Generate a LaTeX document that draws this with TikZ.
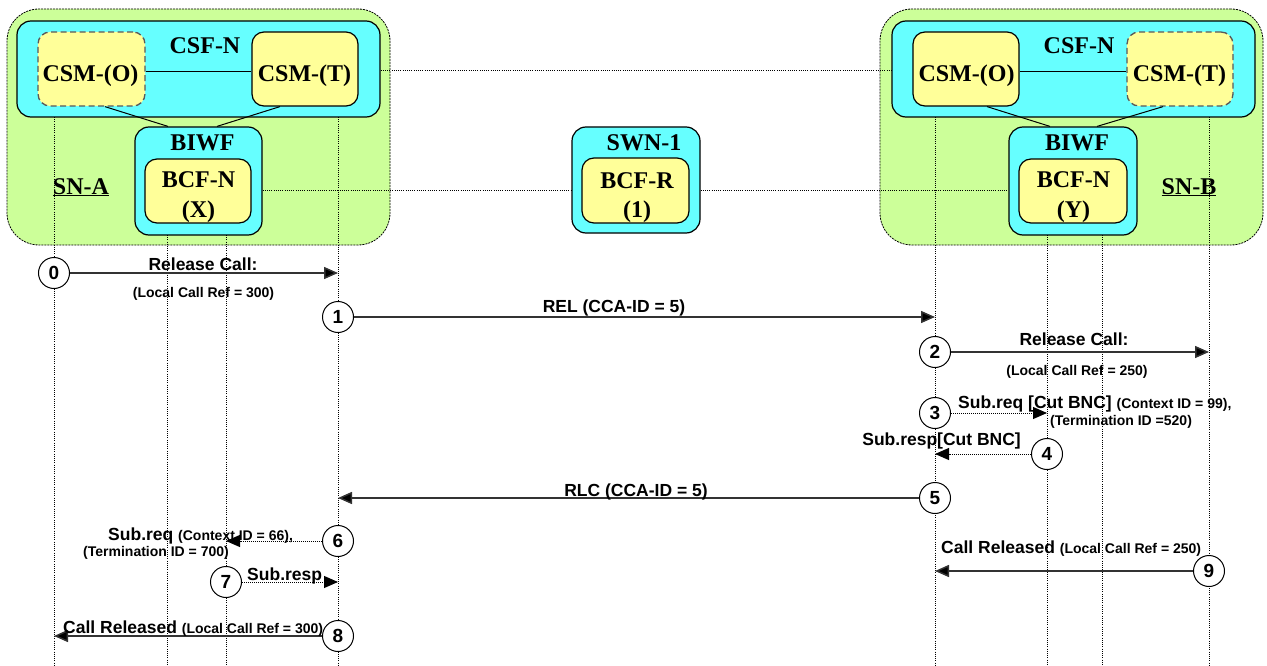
\documentclass[tikz,border=0pt]{standalone}
\usepackage{fontspec}
\setmainfont{Liberation Sans}
\newfontfamily\boxfont{Liberation Serif}
\usetikzlibrary{arrows.meta,calc}
\definecolor{sngreen}{HTML}{CCFF99}
\definecolor{fcyan}{HTML}{66FFFF}
\definecolor{fyellow}{HTML}{FFFF99}
\definecolor{lnk}{HTML}{333333}
\newcommand{\smt}[1]{{\fontsize{14}{16}\selectfont #1}}
\begin{document}
\begin{tikzpicture}[x=1pt,y=-1pt,
  snbox/.style={draw, dash pattern=on 2pt off 1pt, line width=0.8pt, fill=sngreen, rounded corners=32pt, minimum width=383pt, minimum height=236pt, inner sep=0pt},
  cyanbox/.style={draw, line width=1.2pt, fill=fcyan, rounded corners=14pt, inner sep=0pt},
  ybox/.style={draw, line width=1.2pt, fill=fyellow, rounded corners=12pt, inner sep=0pt},
  ydash/.style={draw=black!65, line width=1.3pt, dash pattern=on 6pt off 3.5pt, fill=fyellow, rounded corners=12pt, inner sep=0pt},
  blbl/.style={font=\boxfont\bfseries\fontsize{24}{28}\selectfont, inner sep=0pt, anchor=base},
  life/.style={line width=0.8pt, dash pattern=on 1pt off 1.2pt},
  conn/.style={line width=0.8pt, dash pattern=on 1pt off 1.2pt},
  solidln/.style={line width=1pt},
  msg/.style={line width=1.5pt, draw=lnk, -{Triangle[length=14pt,width=12pt,fill=black]}},
  dmsg/.style={line width=1pt, dash pattern=on 1pt off 1pt, -{Triangle[length=14pt,width=12pt,fill=black]}},
  num/.style={circle, draw, line width=1pt, fill=white, minimum size=31pt, inner sep=0pt, font=\bfseries\fontsize{19}{22}\selectfont},
  big/.style={font=\bfseries\fontsize{17.5}{20}\selectfont, inner sep=0pt},
  sm/.style={font=\bfseries\fontsize{14}{16}\selectfont, inner sep=0pt}
]
\useasboundingbox (0,0) rectangle (1267,666);

% ---------- SN-A ----------
\node[snbox] (SNA) at (198.5,127) {};
\node[cyanbox, minimum width=363pt, minimum height=96pt] (CSFA) at (198.5,69) {};
\node[ydash, minimum width=107pt, minimum height=74pt] (CSMOA) at (91.5,69) {};
\node[ybox, minimum width=106pt, minimum height=74pt] (CSMTA) at (305,69) {};
\node[blbl] (tCSFA) at (205,54) {CSF-N};
\node[blbl] (tCSMOA) at (90.5,82) {CSM-(O)};
\node[blbl] (tCSMTA) at (304.5,82) {CSM-(T)};
\draw[solidln] ($(CSMOA.east)+(0,3)$) -- ($(CSMTA.west)+(0,3)$);
\node[cyanbox, minimum width=127pt, minimum height=108pt] (BIWFA) at (198.5,181) {};
\draw[solidln] ($(CSMOA.south)+(13.5,0)$) -- ($(BIWFA.north)+(-30.5,0)$);
\draw[solidln] ($(CSMTA.south)+(-25,0)$) -- ($(BIWFA.north)+(18.5,0)$);
\node[ybox, minimum width=106pt, minimum height=64pt] (BCFA) at (198,191) {};
\node[blbl] (tBIWFA) at (202.5,151) {BIWF};
\node[blbl] (tBCFA1) at (198.5,188) {BCF-N};
\node[blbl] (tBCFA2) at (198.5,217) {(X)};
\node[blbl] (tSNA) at (81,194) {\underline{SN-A}};

% ---------- SN-B ----------
\node[snbox] (SNB) at (1071.5,127) {};
\node[cyanbox, minimum width=363pt, minimum height=96pt] (CSFB) at (1073.5,69) {};
\node[ybox, minimum width=106pt, minimum height=74pt] (CSMOB) at (966,69) {};
\node[ydash, minimum width=106pt, minimum height=74pt] (CSMTB) at (1180,69) {};
\node[blbl] (tCSFB) at (1079,54) {CSF-N};
\node[blbl] (tCSMOB) at (966.5,82) {CSM-(O)};
\node[blbl] (tCSMTB) at (1179.5,82) {CSM-(T)};
\draw[solidln] ($(CSMOB.east)+(0,3)$) -- ($(CSMTB.west)+(0,3)$);
\node[cyanbox, minimum width=128pt, minimum height=108pt] (BIWFB) at (1073,181) {};
\draw[solidln] ($(CSMOB.south)+(21,0)$) -- ($(BIWFB.north)+(-23,0)$);
\draw[solidln] ($(CSMTB.south)+(-17,0)$) -- ($(BIWFB.north)+(24,0)$);
\node[ybox, minimum width=108pt, minimum height=64pt] (BCFB) at (1073,191) {};
\node[blbl] (tBIWFB) at (1077,151) {BIWF};
\node[blbl] (tBCFB1) at (1073.5,188) {BCF-N};
\node[blbl] (tBCFB2) at (1073.5,217) {(Y)};
\node[blbl] (tSNB) at (1189,194) {\underline{SN-B}};

% ---------- SWN-1 ----------
\node[cyanbox, minimum width=128pt, minimum height=106pt] (SWN) at (636,180) {};
\node[ybox, minimum width=107pt, minimum height=65pt] (BCFR) at (635.5,190.5) {};
\node[blbl] (tSWN) at (644,151) {SWN-1};
\node[blbl] (tBCFR1) at (637,189) {BCF-R};
\node[blbl] (tBCFR2) at (637,217) {(1)};

% ---------- dotted links ----------
\draw[conn] (CSFA.east |- 0,70) -- (CSFB.west |- 0,70);
\draw[conn] (BIWFA.east |- 0,190) -- (SWN.west |- 0,190);
\draw[conn] (SWN.east |- 0,190) -- (BIWFB.west |- 0,190);

% ---------- lifelines ----------
\coordinate (LAt) at (54,117);   \coordinate (LAb) at (54,666);
\coordinate (BA1t) at (167,235); \coordinate (BA1b) at (167,666);
\coordinate (BA2t) at (226,235); \coordinate (BA2b) at (226,666);
\coordinate (TAt) at (338,117);  \coordinate (TAb) at (338,666);
\coordinate (OBt) at (935,117);  \coordinate (OBb) at (935,666);
\coordinate (BB1t) at (1047,235); \coordinate (BB1b) at (1047,666);
\coordinate (BB2t) at (1102,235); \coordinate (BB2b) at (1102,666);
\coordinate (TBt) at (1209,117); \coordinate (TBb) at (1209,666);
\foreach \a/\b in {LAt/LAb,BA1t/BA1b,BA2t/BA2b,TAt/TAb,OBt/OBb,BB1t/BB1b,BB2t/BB2b,TBt/TBb}
  \draw[life] (\a) -- (\b);

% ---------- messages ----------
\node[num] (c0) at (54,273) {0};
\node[num] (c1) at (338,317) {1};
\node[num] (c2) at (935,352) {2};
\node[num] (c3) at (935,413) {3};
\node[num] (c4) at (1047,454) {4};
\node[num] (c5) at (935,498) {5};
\node[num] (c6) at (338,541) {6};
\node[num] (c7) at (226,582) {7};
\node[num] (c8) at (338,636) {8};
\node[num] (c9) at (1209,571) {9};

\draw[msg] (c0.east) -- (c0.east -| TAt);
\draw[msg] (c1.east) -- (c1.east -| OBt);
\draw[msg] (c2.east) -- (c2.east -| TBt);
\draw[dmsg] (c3.east) -- (c3.east -| BB1t);
\draw[dmsg] (c4.west) -- (c4.west -| OBt);
\draw[msg] (c5.west) -- (c5.west -| TAt);
\draw[dmsg] (c6.west) -- (c6.west -| BA2t);
\draw[dmsg] (c7.east) -- (c7.east -| TAt);
\draw[msg] (c8.west) -- (c8.west -| LAt);
\draw[msg] (c9.west) -- (c9.west -| OBt);

\node[big, anchor=base] (m0a) at (203,270) {Release Call:};
\node[sm, anchor=base] (m0b) at (203.5,297) {(Local Call Ref = 300)};
\node[big, anchor=base] (m1) at (614,312) {REL (CCA-ID = 5)};
\node[big, anchor=base] (m2a) at (1074,345) {Release Call:};
\node[sm, anchor=base] (m2b) at (1077,375) {(Local Call Ref = 250)};
\node[big, anchor=base west] (m3a) at (958,408) {Sub.req [Cut BNC] \smt{(Context ID = 99),}};
\node[sm, anchor=base west] (m3b) at (1050,425) {(Termination ID =520)};
\node[big, anchor=base east] (m4) at (1021,445) {Sub.resp[Cut BNC]};
\node[big, anchor=base] (m5) at (636,496) {RLC (CCA-ID = 5)};
\node[big, anchor=base west] (m6a) at (108,540) {Sub.req \smt{(Context ID = 66),}};
\node[sm, anchor=base west] (m6b) at (83,556) {(Termination ID = 700)};
\node[big, anchor=base west] (m7) at (247,580) {Sub.resp};
\node[big, anchor=base west] (m8) at (63,633) {Call Released \smt{(Local Call Ref = 300)}};
\node[big, anchor=base west] (m9) at (941,553) {Call Released \smt{(Local Call Ref = 250)}};
\end{tikzpicture}
\end{document}
